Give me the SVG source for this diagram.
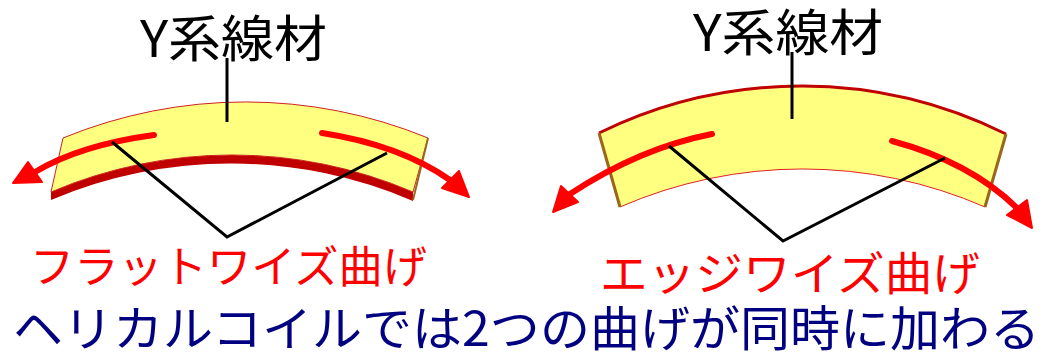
<svg xmlns="http://www.w3.org/2000/svg" width="1045" height="353" viewBox="0 0 1045 353">
  <style>
    .title { font-family: "Noto Sans CJK JP", "Liberation Sans", sans-serif; font-size: 50px; fill: #000; }
    .bend { font-family: "Noto Sans CJK JP", "Liberation Sans", sans-serif; fill: #ff0000; }
    .note { font-family: "Noto Sans CJK JP", "Liberation Sans", sans-serif; font-size: 48px; fill: #000080; }
    .face { fill: #ffff80; }
    .lead { stroke: #000; stroke-width: 3; fill: none; }
    .shaft { stroke: #ff0000; stroke-width: 6; fill: none; stroke-linecap: round; }
    .head { fill: #ff0000; stroke: #ff0000; stroke-width: 2; stroke-linejoin: round; }
    .side { stroke: #99661a; stroke-width: 3; fill: none; }
  </style>

  <!-- Flatwise bent tape (left) -->
  <g id="flatwise-tape">
    <path d="M51,192 A461,461 0 0,1 413,192 L413,201 A461,461 0 0,0 51,200 Z" fill="#c00000"/>
    <path class="face" d="M63,138 A480,480 0 0,1 428,138 L413,192 A461,461 0 0,0 51,192 Z" stroke="#cc2222" stroke-width="1"/>
    <line x1="428" y1="138" x2="413" y2="200" stroke="#99661a" stroke-width="2"/>
  </g>

  <!-- Edgewise bent tape (right) -->
  <g id="edgewise-tape">
    <path class="face" d="M599,133 A460,460 0 0,1 1006,134 L985,207 A457,457 0 0,0 620,207 Z"/>
    <path d="M599,133 A460,460 0 0,1 1006,134" fill="none" stroke="#c00000" stroke-width="3"/>
    <path d="M620,207 A457,457 0 0,1 985,207" fill="none" stroke="#dd2222" stroke-width="1"/>
    <line class="side" x1="599" y1="133" x2="620" y2="207"/>
    <line class="side" x1="1006" y1="134" x2="985" y2="207"/>
  </g>

  <!-- Bending arrows -->
  <g id="arrows">
    <path class="shaft" d="M154,135 Q80,145 35,172"/>
    <polygon class="head" points="13,183 28,162 42,182"/>
    <path class="shaft" d="M322,133 Q400,145 450,180"/>
    <polygon class="head" points="469,197 442,188 459,171"/>
    <path class="shaft" d="M712,134 Q640,148 570,194"/>
    <polygon class="head" points="553,212 561,186 578,202"/>
    <path class="shaft" d="M892,141 Q970,162 1017,208"/>
    <polygon class="head" points="1032,228 1007,215 1027,200"/>
  </g>

  <!-- Leader lines -->
  <g id="connectors">
    <line class="lead" x1="227" y1="58" x2="227" y2="122"/>
    <polyline class="lead" points="112,142 227,237 387,153"/>
    <line class="lead" x1="792" y1="52" x2="792" y2="119"/>
    <polyline class="lead" points="669,146 783,241 945,158"/>
  </g>

  <g id="label-material-left">
    <text class="title" x="140" y="57" textLength="187" lengthAdjust="spacingAndGlyphs">Y系線材</text>
  </g>
  <g id="label-material-right">
    <text class="title" x="693" y="51" textLength="190" lengthAdjust="spacingAndGlyphs">Y系線材</text>
  </g>
  <g id="label-flatwise">
    <text class="bend" x="30" y="283" font-size="44" textLength="397" lengthAdjust="spacingAndGlyphs">フラットワイズ曲げ</text>
  </g>
  <g id="label-edgewise">
    <text class="bend" x="600" y="290" font-size="46" textLength="380" lengthAdjust="spacingAndGlyphs">エッジワイズ曲げ</text>
  </g>
  <g id="label-helical">
    <text class="note" x="13" y="346" textLength="1027" lengthAdjust="spacingAndGlyphs">ヘリカルコイルでは2つの曲げが同時に加わる</text>
  </g>
</svg>
